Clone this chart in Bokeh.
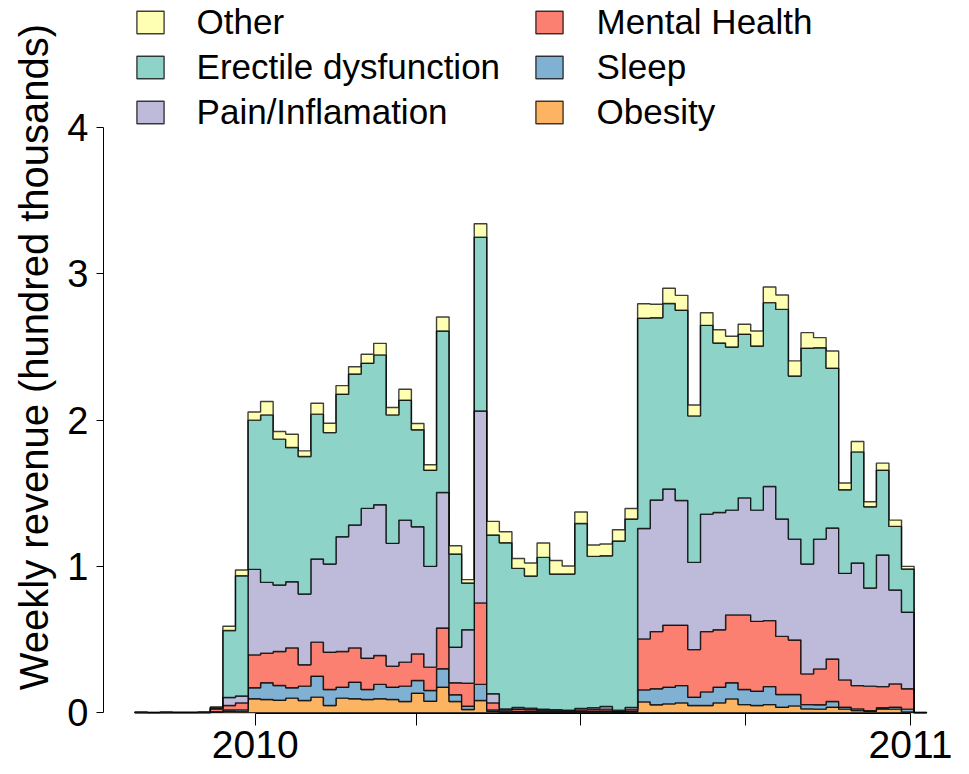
import numpy as np
import pandas as pd
from bokeh.plotting import figure
from bokeh.models import FixedTicker, Legend, LegendItem, Range1d
from bokeh.embed import file_html
from bokeh.resources import INLINE

# ---------------- data ----------------
week_start = pd.date_range("2009-10-26", periods=63, freq="7D")
origin = pd.Timestamp("2010-01-01")

obesity = [0, 0, 0, 0, 0, 0, .003, .010, .008, .096, .091, .086, .100, .084, .107, .050,
           .100, .096, .091, .096, .091, .077, .134, .079, .175, .077, .023, .084, .010, .004,
           .004, .004, .003, .003, .002, .004, .004, .004, .003, .004, .075, .055, .061, .068,
           .050, .050, .068, .095, .056, .050, .056, .038, .047, .027, .025, .038, .025, .015,
           .010, .025, .025, .005, 0]
sleep = [0, 0, 0, 0, 0, 0, .005, .010, .012, .075, .114, .101, .071, .098, .143, .109,
         .075, .113, .068, .098, .084, .105, .087, .073, .126, .046, .022, .110, .010, .004,
         .006, .006, .005, .005, .004, .006, .006, .008, .004, .008, .082, .109, .114, .118,
         .056, .093, .107, .110, .103, .097, .123, .087, .078, .029, .030, .039, .013, .012,
         .005, .009, .013, .020, 0]
mental = [0, 0, 0, 0, 0, .001, .017, .030, .048, .225, .203, .232, .273, .146, .233, .255,
          .244, .235, .214, .198, .144, .164, .182, .160, .279, .082, .158, .557, .048, .010,
          .014, .012, .007, .006, .005, .010, .012, .013, .005, .013, .348, .391, .423, .412,
          .326, .412, .393, .464, .510, .478, .451, .397, .373, .210, .245, .291, .187, .159,
          .167, .145, .160, .139, 0]
pain = [.001, 0, .001, .001, .001, .001, .007, .055, .047, .584, .483, .454, .452, .484, .568, .603,
        .784, .839, 1.024, 1.030, .839, .971, .868, .689, .926, .243, .365, 1.312, .062, .009,
        .012, .010, .009, .008, .006, .010, .013, .018, .006, .012, .755, .899, .931, .853,
        .596, .803, .801, .716, .800, .760, .917, .802, .689, .751, .887, .895, .728, .838,
        .671, .899, .641, .523, 0]
erectile = [.003, .002, .003, .002, .002, .002, .005, .457, .822, 1.020, 1.145, .997, .917, .940, .990, .898,
            .974, 1.032, .992, 1.024, .878, .819, .663, .657, 1.103, .637, .319, 1.188, 1.085, 1.135,
            .951, .903, 1.038, .927, .932, 1.264, 1.034, 1.030, 1.156, 1.287, 1.436, 1.246, 1.268, 1.300,
            1.001, 1.290, 1.158, 1.115, 1.118, 1.122, 1.256, 1.433, 1.115, 1.474, 1.308, 1.092, .571, .759,
            .555, .580, .435, .296, .002]
other = [.001, 0, .001, .001, .001, .001, .003, .029, .039, .056, .091, .052, .091, .038, .075, .064,
         .059, .050, .061, .079, .050, .075, .043, .037, .096, .057, .023, .091, .093, .075,
         .068, .089, .098, .092, .054, .078, .078, .081, .077, .072, .100, .092, .104, .102,
         .075, .086, .091, .073, .068, .102, .107, .098, .103, .107, .069, .118, .046, .071,
         .034, .048, .043, .018, 0]

series_names = ["Obesity", "Sleep", "Mental Health", "Pain/Inflamation", "Erectile dysfunction", "Other"]
series_values = [obesity, sleep, mental, pain, erectile, other]
series_colors = ["#FDB462", "#80B1D3", "#FB8072", "#BEBADA", "#8DD3C7", "#FFFFB3"]

tick_dates = ["2010-01-01", "2010-04-01", "2010-07-01", "2010-10-01", "2011-01-01"]
tick_labels = ["2010", "", "", "", "2011"]
y_ticks = [0, 1, 2, 3, 4]

# ---------------- geometry ----------------
days = np.array((week_start - origin).days, dtype=float)
edges = np.append(days, days[-1] + 7)
tick_days = [int((pd.Timestamp(d) - origin).days) for d in tick_dates]

# layout constants (canvas pixels)
W, H = 960, 774
frame_left_px, frame_right_px = 103, 952
frame_top_px, frame_bottom_px = 0, 713
x0_px, x1_px = 254.7, 910.0          # pixel of 2010-01-01 and 2011-01-01
y0_px, y4_px = 712.3, 127.0          # pixel of value 0 and 4
ppd = (x1_px - x0_px) / 365.0
ppu = (y0_px - y4_px) / 4.0

x_start = (frame_left_px - x0_px) / ppd
x_end = (frame_right_px - x0_px) / ppd
y_start = (y0_px - frame_bottom_px) / ppu
y_end = (y0_px - frame_top_px) / ppu

p = figure(width=W, height=H, output_backend="svg", toolbar_location=None,
           x_range=Range1d(x_start, x_end), y_range=Range1d(y_start, y_end),
           min_border_left=frame_left_px, min_border_right=W - frame_right_px,
           min_border_top=frame_top_px, min_border_bottom=H - frame_bottom_px)
p.outline_line_color = None
p.xgrid.visible = False
p.ygrid.visible = False
p.background_fill_color = "white"
p.border_fill_color = "white"


def step_poly(lo, hi):
    xs_top = np.repeat(edges, 2)[1:-1]
    ys_top = np.repeat(hi, 2)
    xs = np.concatenate([xs_top, xs_top[::-1]])
    ys = np.concatenate([ys_top, np.repeat(lo, 2)[::-1]])
    return xs, ys


renderers = {}
cum = np.zeros(len(days))
for name, vals, col in zip(series_names, series_values, series_colors):
    lo = cum.copy()
    cum = cum + np.array(vals, dtype=float)
    xs, ys = step_poly(lo, cum)
    r = p.patch(xs, ys, fill_color=col, fill_alpha=1.0, line_color="black",
                line_alpha=0.75, line_width=1.4)
    renderers[name] = r

FONT = "Liberation Sans"

# axes
xa = p.xaxis[0]
xa.ticker = FixedTicker(ticks=tick_days, minor_ticks=[])
xa.major_label_overrides = {d: lab for d, lab in zip(tick_days, tick_labels)}
xa.bounds = (tick_days[0], tick_days[-1])
xa.major_tick_out = 12
xa.major_tick_in = 0
xa.minor_tick_out = 0
xa.minor_tick_in = 0
xa.major_label_standoff = 5
xa.major_label_text_font = FONT
xa.major_label_text_font_size = "39px"
xa.major_label_text_color = "black"
xa.axis_line_color = "black"
xa.major_tick_line_color = "black"

ya = p.yaxis[0]
ya.ticker = FixedTicker(ticks=y_ticks, minor_ticks=[])
ya.bounds = (y_ticks[0], y_ticks[-1])
ya.major_tick_out = 7
ya.major_tick_in = 0
ya.minor_tick_out = 0
ya.minor_tick_in = 0
ya.major_label_standoff = 8
ya.major_label_text_font = FONT
ya.major_label_text_font_size = "38px"
ya.major_label_text_color = "black"
ya.axis_line_color = "black"
ya.major_tick_line_color = "black"
ya.axis_label = "Weekly revenue (hundred thousands)"
ya.axis_label_text_font = FONT
ya.axis_label_text_font_size = "40px"
ya.axis_label_text_font_style = "normal"
ya.axis_label_text_color = "black"
ya.axis_label_standoff = 8

# legends (two columns)
col1 = ["Other", "Erectile dysfunction", "Pain/Inflamation"]
col2 = ["Mental Health", "Sleep", "Obesity"]
row_h = 44
row_gap = 1
legend_bottom = frame_bottom_px - (112 + row_h / 2)
for names, gx, stand in [(col1, 132.6, 30), (col2, 531.6, 31)]:
    leg = Legend(items=[LegendItem(label=n, renderers=[renderers[n]]) for n in names],
                 location=(gx - frame_left_px, legend_bottom),
                 glyph_width=34, glyph_height=28, label_height=row_h, spacing=row_gap,
                 padding=0, margin=0, label_standoff=stand,
                 label_text_font=FONT, label_text_font_size="35px",
                 label_text_color="black", border_line_color=None,
                 background_fill_alpha=0)
    p.add_layout(leg, "center")

open("out.html", "w").write(file_html(p, INLINE))
